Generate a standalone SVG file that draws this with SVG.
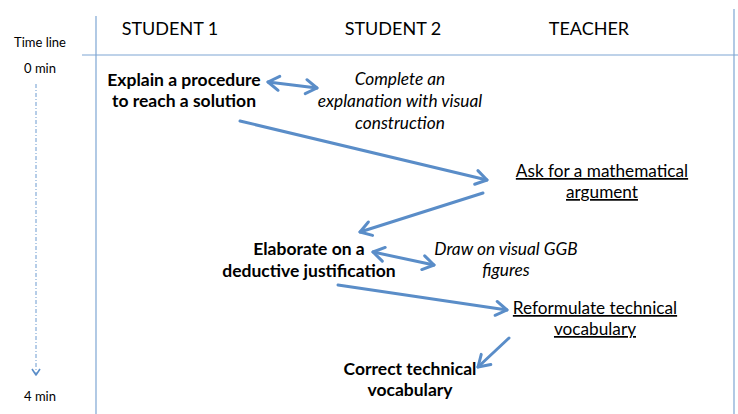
<svg xmlns="http://www.w3.org/2000/svg" width="738" height="414" viewBox="0 0 738 414">
  <style>
    text { font-family: Lato, "Open Sans", "DejaVu Sans", sans-serif; fill: #000; text-anchor: middle; }
    .hdr { font-size: 18px; }
    .small { font-size: 13px; }
    .s1 { font-size: 17.5px; font-weight: bold; }
    .s2 { font-size: 17.3px; font-style: italic; }
    .t { font-size: 17.2px; text-decoration: underline; }
    .grid { stroke: #7ea6d3; stroke-width: 1.2; fill: none; }
    .flow { stroke: #5a8dc8; stroke-width: 3; fill: none; stroke-linecap: round; }
    .time { stroke: #6d9bd0; stroke-width: 1; stroke-dasharray: 4 2 1 2; fill: none; }
  </style>
  <defs>
    <marker id="head" markerUnits="userSpaceOnUse" viewBox="-14 -9 16 18" markerWidth="16" markerHeight="18" refX="0" refY="0" orient="auto-start-reverse">
      <polyline points="-11,-7 0,0 -11,7" fill="none" stroke="#5a8dc8" stroke-width="3" stroke-linecap="round" stroke-linejoin="round"/>
    </marker>
    <marker id="timehead" markerUnits="userSpaceOnUse" viewBox="-8 -6 10 12" markerWidth="10" markerHeight="12" refX="0" refY="0" orient="auto">
      <polyline points="-6,-4 0,0 -6,4" fill="none" stroke="#5a8dc8" stroke-width="1.6" stroke-linejoin="round"/>
    </marker>
  </defs>

  <!-- table frame -->
  <g id="frame">
    <line class="grid" x1="96" y1="16" x2="96" y2="414"/>
    <line class="grid" x1="734" y1="9" x2="734" y2="414"/>
    <line class="grid" x1="82" y1="55" x2="738" y2="55"/>
  </g>

  <!-- column headers -->
  <g id="headers">
    <text class="hdr" x="170" y="35">STUDENT 1</text>
    <text class="hdr" x="393" y="35">STUDENT 2</text>
    <text class="hdr" x="589" y="35">TEACHER</text>
  </g>

  <!-- time axis -->
  <g id="timeline">
    <text class="small" x="40" y="47">Time line</text>
    <text class="small" x="40" y="73">0 min</text>
    <line class="time" x1="36" y1="84" x2="36" y2="375" marker-end="url(#timehead)"/>
    <text class="small" x="40" y="401">4 min</text>
  </g>

  <!-- steps -->
  <g id="explain">
    <text class="s1" x="184" y="86">Explain a procedure</text>
    <text class="s1" x="184" y="107">to reach a solution</text>
  </g>
  <g id="complete">
    <text class="s2" x="400" y="85">Complete an</text>
    <text class="s2" x="400" y="107">explanation with visual</text>
    <text class="s2" x="400" y="129">construction</text>
  </g>
  <g id="ask">
    <text class="t" x="602" y="177">Ask for a mathematical</text>
    <text class="t" x="602" y="198">argument</text>
  </g>
  <g id="elaborate">
    <text class="s1" x="309" y="255">Elaborate on a</text>
    <text class="s1" x="309" y="277">deductive justification</text>
  </g>
  <g id="draw">
    <text class="s2" x="506" y="255">Draw on visual GGB</text>
    <text class="s2" x="506" y="276">figures</text>
  </g>
  <g id="reformulate">
    <text class="t" x="595" y="314">Reformulate technical</text>
    <text class="t" x="595" y="335">vocabulary</text>
  </g>
  <g id="correct">
    <text class="s1" x="410" y="375">Correct technical</text>
    <text class="s1" x="410" y="396">vocabulary</text>
  </g>

  <!-- connectors -->
  <g id="connectors">
    <line class="flow" x1="268" y1="82" x2="317" y2="88" marker-start="url(#head)" marker-end="url(#head)"/>
    <line class="flow" x1="240" y1="121" x2="487" y2="180" marker-end="url(#head)"/>
    <line class="flow" x1="483" y1="193" x2="360" y2="232" marker-end="url(#head)"/>
    <line class="flow" x1="373" y1="252" x2="434" y2="265" marker-start="url(#head)" marker-end="url(#head)"/>
    <line class="flow" x1="338" y1="285" x2="507" y2="310" marker-end="url(#head)"/>
    <line class="flow" x1="509" y1="338" x2="478" y2="367" marker-end="url(#head)"/>
  </g>
</svg>
